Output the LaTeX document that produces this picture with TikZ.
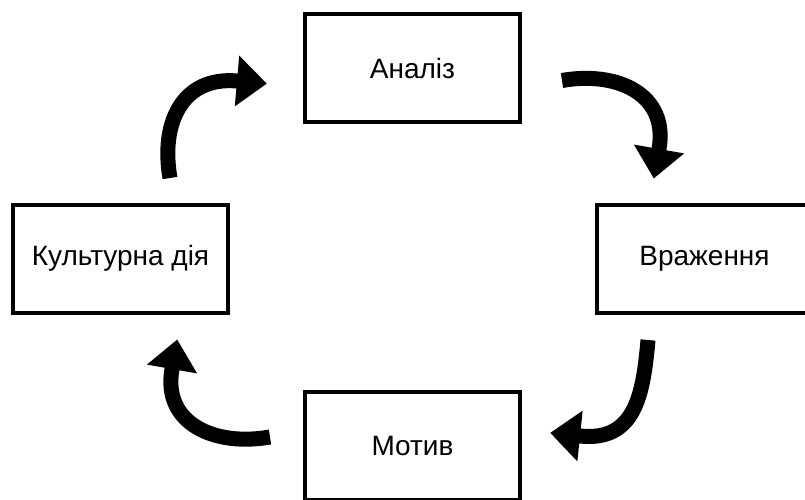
\documentclass[tikz,border=0pt]{standalone}
\usepackage{fontspec}
\setmainfont{Liberation Sans}
\usetikzlibrary{arrows.meta,positioning}
\tikzset{
  >=Stealth,
  block/.style={rectangle, draw, line width=4pt, minimum width=215pt, minimum height=108pt, font=\fontsize{28}{34}\selectfont},
  turn/.style={-{Triangle[width=49pt,length=30pt]}, line width=15pt, looseness=1.2}
}

\begin{document}
\begin{tikzpicture}[x=1pt, y=1pt, node distance=378pt]
    \useasboundingbox (0,0) rectangle (805,499);

    \node[block] (analiz) at (412.5,431) {Аналіз};
    \node[block, below of=analiz] (motyv) {Мотив};
    \node[block] (kultura) at (120.5,240.5) {Культурна дія};
    \node[block] (vrazh) at (704.5,240.5) {Враження};

    \coordinate (t1) at (170,321);  \coordinate (b1) at (237,418);
    \coordinate (t2) at (562,418.5); \coordinate (b2) at (659,350);
    \coordinate (t3) at (648,159);  \coordinate (b3) at (580,63);
    \coordinate (t4) at (270,62);   \coordinate (b4) at (172,130);

    \draw[turn] (t1) to[out=100, in=175] (b1) -- ++(-5:30);
    \draw[turn] (t2) to[out=10, in=80] (b2) -- ++(-100:30);
    \draw[turn] (t3) to[out=-95, in=-6] (b3) -- ++(174:30);
    \draw[turn] (t4) to[out=190, in=260] (b4) -- ++(80:30);
\end{tikzpicture}
\end{document}
